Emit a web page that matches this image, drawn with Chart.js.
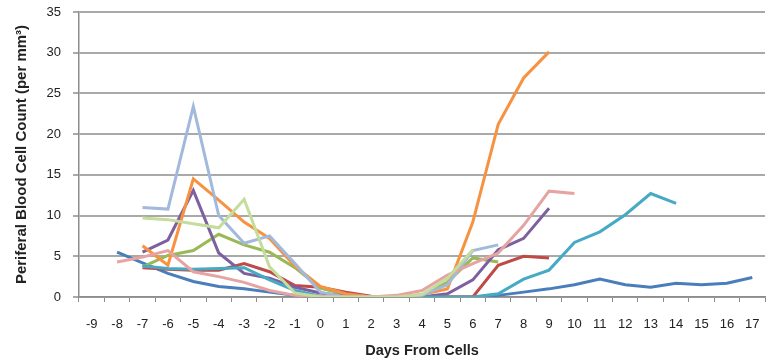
<!DOCTYPE html>
<html>
<head>
<meta charset="utf-8">
<script src="https://cdn.jsdelivr.net/npm/chart.js@4"></script>
<style>
  body { margin: 0; background: #fff; }
  #wrap { width: 768px; height: 363px; }
</style>
</head>
<body>
<div id="wrap"><canvas id="cellChart" width="768" height="363"></canvas></div>
<script>
// days -9 .. 17
const days = ['-9','-8','-7','-6','-5','-4','-3','-2','-1','0','1','2','3','4','5','6','7','8','9','10','11','12','13','14','15','16','17'];

const blue       = [null,5.5,4.2,2.9,1.9,1.3,1.0,0.6,0.2,0,0,0,0,0,0,0,0.2,0.6,1.0,1.5,2.2,1.5,1.2,1.7,1.5,1.7,2.4];
const red        = [null,null,3.6,3.4,3.3,3.3,4.1,3.1,1.4,1.2,0.6,0.1,0,0,0,0,3.9,5.0,4.8,null,null,null,null,null,null,null,null];
const green      = [null,null,3.7,5.1,5.7,7.7,6.4,5.5,3.6,1.1,0.3,0,0,0.2,1.8,4.8,4.3,null,null,null,null,null,null,null,null,null,null];
const purple     = [null,null,5.5,7.0,13.1,5.4,2.9,2.3,1.2,0.5,0.1,0,0,0,0.4,2.1,5.8,7.2,10.9,null,null,null,null,null,null,null,null];
const cyan       = [null,null,3.8,3.5,3.4,3.5,3.6,2.1,0.8,0.1,0,0,0,0,0,0,0.4,2.2,3.3,6.7,8.0,10.1,12.7,11.5,null,null,null];
const orange     = [null,null,6.3,3.9,14.5,11.9,9.2,7.2,3.8,1.3,0.4,0,0,0.3,1.0,9.2,21.2,26.9,30.1,null,null,null,null,null,null,null,null];
const lightBlue  = [null,null,11.0,10.8,23.4,10.0,6.6,7.5,4.1,0.6,0,0,0,0.2,1.5,5.7,6.4,null,null,null,null,null,null,null,null,null,null];
const pink       = [null,4.3,4.9,5.7,3.1,2.5,1.8,0.8,0.2,0.1,0,0,0.2,0.8,2.7,4.1,5.4,8.8,13.0,12.7,null,null,null,null,null,null,null];
const lightGreen = [null,null,9.7,9.5,9.0,8.5,12.0,3.7,0.5,0,0,0,0,0.3,2.3,5.8,null,null,null,null,null,null,null,null,null,null,null];

const series = [blue, red, green, purple, cyan, orange, lightBlue, pink, lightGreen];
const colors = ['#4a7ebb','#be4b48','#98b954','#7d60a0','#46aac5','#f69240','#a2b9dc','#e5a4a1','#c4dc9c'];

const datasets = series.map((vals, i) => ({
  label: 'Series ' + (i + 1),
  data: vals,
  borderColor: colors[i],
  borderWidth: 3,
  pointRadius: 0,
  tension: 0,
  spanGaps: false,
  order: series.length - i
}));

const tickFont = { family: 'Liberation Sans', size: 13 };

const ctx = document.getElementById('cellChart').getContext('2d');
new Chart(ctx, {
  type: 'line',
  data: { labels: days, datasets: datasets },
  options: {
    responsive: false,
    animation: { duration: 0 },
    layout: { padding: { top: 12, right: 3, left: 0, bottom: 0 } },
    plugins: { legend: { display: false }, tooltip: { enabled: false } },
    scales: {
      x: {
        offset: true,
        grid: { display: true, offset: true, drawOnChartArea: false, drawTicks: true, tickLength: 5, color: '#8c8c8c', lineWidth: 1 },
        border: { display: true, color: '#8c8c8c', width: 1.5 },
        ticks: { color: '#222', font: tickFont, padding: 15, maxRotation: 0, autoSkip: false },
        title: { display: true, text: 'Days From Cells', color: '#222', font: { family: 'Liberation Sans', size: 14.5, weight: 'bold' }, padding: { top: 0, bottom: 3 } },
        afterFit: (scale) => { scale.height = 66; scale.paddingLeft = 0; scale.paddingRight = 0; }
      },
      y: {
        min: 0,
        max: 35,
        ticks: { stepSize: 5, color: '#222', font: tickFont, padding: 12 },
        grid: { display: true, drawOnChartArea: true, drawTicks: true, tickLength: 6, color: '#a9a9a9', lineWidth: 2 },
        border: { display: true, color: '#8c8c8c', width: 1.5 },
        title: { display: true, text: 'Periferal Blood Cell Count (per mm³)', color: '#222', font: { family: 'Liberation Sans', size: 15, weight: 'bold' }, padding: { top: 13, bottom: 0 } },
        afterFit: (scale) => { scale.width = 79; scale.paddingTop = 0; scale.paddingBottom = 0; }
      }
    }
  }
});
</script>
</body>
</html>
